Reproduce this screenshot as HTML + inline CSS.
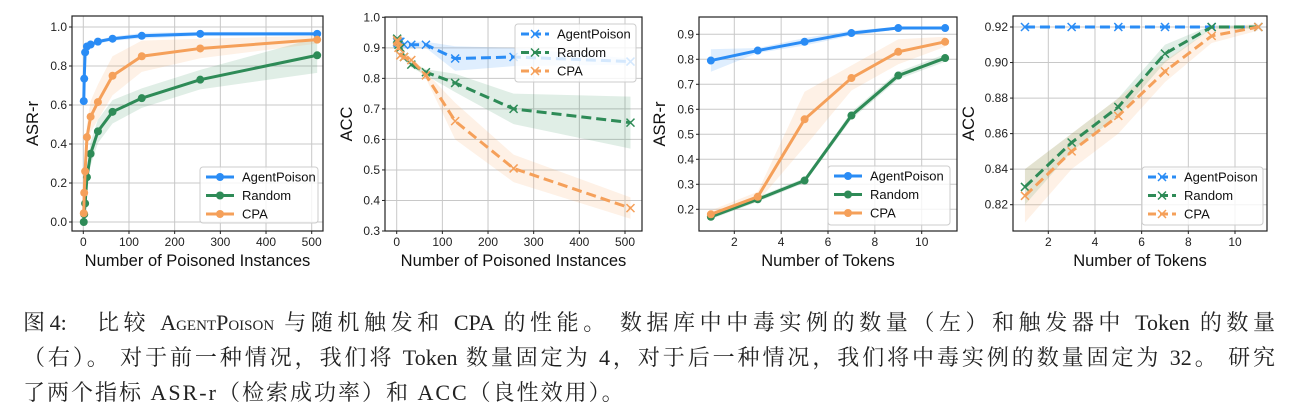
<!DOCTYPE html>
<html><head><meta charset="utf-8">
<style>
body{margin:0;background:#fff;width:1294px;height:414px;overflow:hidden;font-family:"Liberation Sans","DejaVu Sans",sans-serif}
#cap{position:absolute;left:23px;top:305px;width:1252px;font-family:"Liberation Serif","Noto Serif CJK SC",serif;font-size:22px;line-height:35px;color:#222}
.ln{text-align:justify;text-align-last:justify;height:35px}
.ln.last{text-align-last:left;white-space:nowrap;letter-spacing:2px}
.sc{font-variant:small-caps}
</style></head><body>
<svg id="chart" width="1294" height="290" style="position:absolute;left:0;top:0"></svg>
<div id="cap">
<div class="ln">图4:&nbsp;&nbsp; 比较 <span class="sc">AgentPoison</span> 与随机触发和 CPA 的性能。 数据库中中毒实例的数量（左）和触发器中 Token 的数量</div>
<div class="ln">（右）。 对于前一种情况，我们将 Token 数量固定为 4，对于后一种情况，我们将中毒实例的数量固定为 32。 研究</div>
<div class="ln last">了两个指标 ASR-r（检索成功率）和 ACC（良性效用）。</div>
</div>
<script>
const xPoison=[1,2,4,8,16,32,64,128,256,512];
const xTokens=[1,3,5,7,9,11];
const p1Agent=[0.62,0.735,0.87,0.90,0.91,0.925,0.94,0.955,0.965,0.965];
const p1Random=[0.0,0.04,0.095,0.23,0.35,0.465,0.565,0.635,0.73,0.855];
const p1CPA=[0.045,0.15,0.26,0.435,0.54,0.615,0.75,0.85,0.89,0.935];
const p1AgentBand=[0.01,0.01,0.01,0.01,0.01,0.01,0.01,0.015,0.01,0.01];
const p1RandomBand=[0.02,0.03,0.04,0.05,0.06,0.06,0.06,0.05,0.05,0.09];
const p1CPABand=[0.03,0.05,0.06,0.07,0.08,0.09,0.1,0.08,0.05,0.02];
const p2Agent=[0.92,0.915,0.92,0.92,0.91,0.91,0.91,0.865,0.87,0.855];
const p2Random=[0.93,0.92,0.91,0.90,0.87,0.845,0.82,0.785,0.70,0.655];
const p2CPA=[0.925,0.92,0.90,0.875,0.87,0.86,0.81,0.66,0.505,0.375];
const p2AgentBand=[0.01,0.01,0.01,0.01,0.01,0.01,0.01,0.04,0.03,0.01];
const p2RandomBand=[0.01,0.01,0.01,0.01,0.01,0.01,0.01,0.03,0.05,0.085];
const p2CPABand=[0.01,0.01,0.01,0.01,0.01,0.01,0.01,0.06,0.045,0.035];
const p3Agent=[0.795,0.835,0.87,0.905,0.925,0.925];
const p3Random=[0.17,0.24,0.315,0.575,0.735,0.805];
const p3CPA=[0.18,0.25,0.56,0.725,0.83,0.87];
const p3AgentBand=[0.045,0.01,0.015,0.01,0.005,0.005];
const p3RandomBand=[0.01,0.01,0.01,0.015,0.015,0.015];
const p3CPABand=[0.015,0.02,0.11,0.05,0.05,0.02];
const p4Agent=[0.92,0.92,0.92,0.92,0.92,0.92];
const p4Random=[0.83,0.855,0.875,0.905,0.92,0.92];
const p4CPA=[0.825,0.85,0.87,0.895,0.915,0.92];
const p4AgentBand=[0,0,0,0,0,0];
const p4RandomBand=[0.01,0.005,0.005,0.005,0.001,0.001];
const p4CPABand=[0.015,0.01,0.01,0.006,0.004,0.002];
const ticks1X=[0,100,200,300,400,500];
const ticks1Y=[0.0,0.2,0.4,0.6,0.8,1.0];
const ticks2Y=[0.3,0.4,0.5,0.6,0.7,0.8,0.9,1.0];
const ticks3X=[2,4,6,8,10];
const ticks3Y=[0.2,0.3,0.4,0.5,0.6,0.7,0.8,0.9];
const ticks4Y=[0.82,0.84,0.86,0.88,0.90,0.92];
const seriesNames=["AgentPoison","Random","CPA"];
const colors=["#2a8cf5","#2e8b57","#f5a05a"];
const NS="http://www.w3.org/2000/svg";
const svg=document.getElementById('chart');
function mk(tag,attrs,parent){const e=document.createElementNS(NS,tag);for(const k in attrs)e.setAttribute(k,attrs[k]);(parent||svg).appendChild(e);return e;}
function lin(d0,d1,r0,r1){return v=>r0+(v-d0)/(d1-d0)*(r1-r0);}
function panel(o){
  const g=mk('g',{});
  
  
  const X=lin(o.xd[0],o.xd[1],o.xr[0],o.xr[1]);
  const Y=lin(o.yd[0],o.yd[1],o.yr[0],o.yr[1]);
  o.xt.forEach(t=>{const l=mk('line',{x1:X(t),x2:X(t),y1:o.box[1],y2:o.box[3],stroke:'#c8c8c8','stroke-width':1},g);
    
    const tx=mk('text',{x:X(t),y:o.box[3]+15,'font-size':12,'text-anchor':'middle',fill:'#222'},g);tx.textContent=o.xf(t);
    
    mk('line',{x1:X(t),x2:X(t),y1:o.box[3],y2:o.box[3]+3,stroke:'#222'},g);});
  o.yt.forEach(t=>{const l=mk('line',{x1:o.box[0],x2:o.box[2],y1:Y(t),y2:Y(t),stroke:'#c8c8c8','stroke-width':1},g);
    
    const tx=mk('text',{x:o.box[0]-5,y:Y(t)+4,'font-size':12,'text-anchor':'end',fill:'#222'},g);tx.textContent=o.yf(t);
    
    mk('line',{x1:o.box[0]-3,x2:o.box[0],y1:Y(t),y2:Y(t),stroke:'#222'},g);});
  o.series.forEach((s,i)=>{
    const up=o.x.map((x,j)=>X(x)+','+Y(s[j]+o.bands[i][j])).join(' ');
    const dn=o.x.map((x,j)=>X(x)+','+Y(s[j]-o.bands[i][j])).reverse().join(' ');
    const b=mk('polygon',{points:up+' '+dn,fill:colors[i],'fill-opacity':0.15,stroke:'none'},g);
    
  });
  o.series.forEach((s,i)=>{
    const pts=o.x.map((x,j)=>X(x)+','+Y(s[j])).join(' ');
    const l=mk('polyline',{points:pts,fill:'none',stroke:colors[i],'stroke-width':3,'stroke-dasharray':o.dash?'10,5':'none'},g);
    
    o.x.forEach((x,j)=>{
      if(o.dash){const cx=X(x),cy=Y(s[j]);const m=mk('path',{d:`M${cx-4},${cy-4}L${cx+4},${cy+4}M${cx-4},${cy+4}L${cx+4},${cy-4}`,stroke:colors[i],'stroke-width':1.5},g);
        }
      else{const m=mk('circle',{cx:X(x),cy:Y(s[j]),r:4,fill:colors[i]},g);
        }
    });
  });
  const fr=mk('rect',{x:o.box[0],y:o.box[1],width:o.box[2]-o.box[0],height:o.box[3]-o.box[1],fill:'none',stroke:'#222','stroke-width':1.2},g);
  
  const xl=mk('text',{x:(o.box[0]+o.box[2])/2,y:o.box[3]+35,'font-size':16.5,'text-anchor':'middle',fill:'#111'},g);xl.textContent=o.xlabel;
  
  const cy=(o.box[1]+o.box[3])/2;
  const yl=mk('text',{x:o.ylx,y:cy,'font-size':16.5,'text-anchor':'middle',fill:'#111',transform:`rotate(-90 ${o.ylx} ${cy})`},g);yl.textContent=o.ylabel;
  
  const L=o.leg;const lg=mk('g',{},g);
  
  mk('rect',{x:L[0],y:L[1],width:L[2]-L[0],height:L[3]-L[1],rx:3,fill:'#fff','fill-opacity':0.8,stroke:'#ccc'},lg);
  seriesNames.forEach((n,i)=>{const yy=L[1]+10+i*18.5;
    const e=mk('g',{},lg);
    mk('line',{x1:L[0]+6,x2:L[0]+34,y1:yy,y2:yy,stroke:colors[i],'stroke-width':3,'stroke-dasharray':o.dash?'8,4':'none'},e);
    if(o.dash)mk('path',{d:`M${L[0]+16},${yy-4}L${L[0]+24},${yy+4}M${L[0]+16},${yy+4}L${L[0]+24},${yy-4}`,stroke:colors[i],'stroke-width':1.5},e);
    else mk('circle',{cx:L[0]+20,cy:yy,r:4,fill:colors[i]},e);
    const t=mk('text',{x:L[0]+42,y:yy+4.5,'font-size':13,fill:'#111'},e);t.textContent=n;});
}
const f1=v=>v.toFixed(1),f2=v=>v.toFixed(2),f0=v=>String(v);
panel({name:'asr-vs-poisoned-panel',box:[72,16,323,231],xd:[0,500],xr:[83.3,311.7],yd:[0,1],yr:[222,27],x:xPoison,xt:ticks1X,yt:ticks1Y,xf:f0,yf:f1,
 series:[p1Agent,p1Random,p1CPA],bands:[p1AgentBand,p1RandomBand,p1CPABand],dash:false,xlabel:'Number of Poisoned Instances',ylabel:'ASR-r',ylx:38,leg:[200,167,318,223]});
panel({name:'acc-vs-poisoned-panel',box:[385,17,642,231],xd:[0,500],xr:[396.7,625],yd:[0.3,1],yr:[231,17.3],x:xPoison,xt:ticks1X,yt:ticks2Y,xf:f0,yf:f1,
 series:[p2Agent,p2Random,p2CPA],bands:[p2AgentBand,p2RandomBand,p2CPABand],dash:true,xlabel:'Number of Poisoned Instances',ylabel:'ACC',ylx:352,leg:[515,24,636,82]});
panel({name:'asr-vs-tokens-panel',box:[699,17,957,231],xd:[2,10],xr:[734.3,921.7],yd:[0.2,0.9],yr:[209.3,34.3],x:xTokens,xt:ticks3X,yt:ticks3Y,xf:f0,yf:f1,
 series:[p3Agent,p3Random,p3CPA],bands:[p3AgentBand,p3RandomBand,p3CPABand],dash:false,xlabel:'Number of Tokens',ylabel:'ASR-r',ylx:665,leg:[828,166,950,225]});
panel({name:'acc-vs-tokens-panel',box:[1013,16,1267,231],xd:[2,10],xr:[1048.3,1235],yd:[0.82,0.92],yr:[204.7,27],x:xTokens,xt:ticks3X,yt:ticks4Y,xf:f0,yf:f2,
 series:[p4Agent,p4Random,p4CPA],bands:[p4AgentBand,p4RandomBand,p4CPABand],dash:true,xlabel:'Number of Tokens',ylabel:'ACC',ylx:974,leg:[1142,167,1263,225]});
</script>
</body></html>
